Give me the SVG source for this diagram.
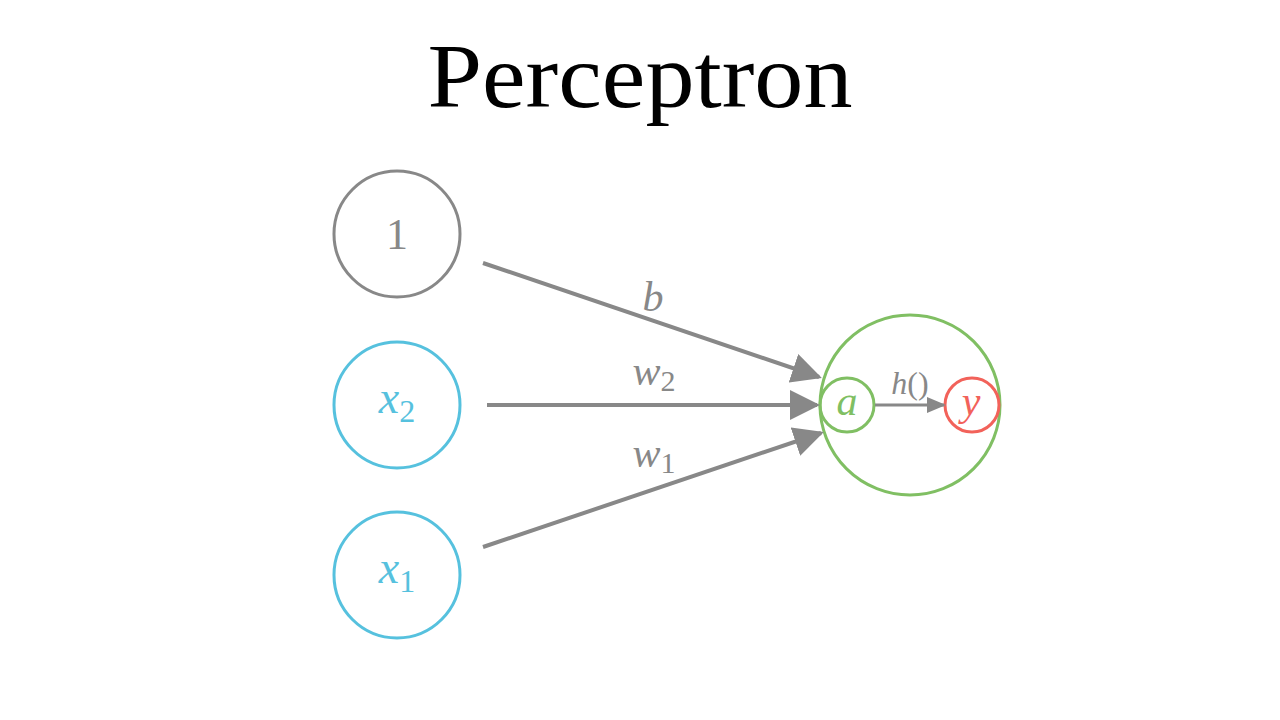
<svg xmlns="http://www.w3.org/2000/svg" width="1280" height="720" viewBox="0 0 1280 720">
<defs>
<marker id="ah" viewBox="0 0 30 30" refX="27" refY="15" markerWidth="30" markerHeight="30" markerUnits="userSpaceOnUse" orient="auto"><path d="M0,0 L30,15 L0,30 Z" fill="#888888"/></marker>
<marker id="ahs" viewBox="0 0 19 16" refX="17" refY="8" markerWidth="19" markerHeight="16" markerUnits="userSpaceOnUse" orient="auto"><path d="M0,0 L19,8 L0,16 Z" fill="#888888"/></marker>
</defs>
<style>
.t{font-family:"Liberation Serif","DejaVu Serif",serif}
.i{font-style:italic}
.gray{fill:#888888}
.blue{fill:#56C1DE}
.green{fill:#80BF63}
.red{fill:#F2625A}
.c{fill:none;stroke-width:3}
.e{stroke:#888888;stroke-width:4;fill:none}
</style>
<rect width="1280" height="720" fill="#ffffff"/>
<text class="t" x="640" y="107" font-size="92" text-anchor="middle" textLength="425" lengthAdjust="spacingAndGlyphs">Perceptron</text>
<g id="node-bias">
<circle class="c" cx="397" cy="234" r="63" stroke="#888888"/>
<text class="t gray" x="397" y="249" font-size="44" text-anchor="middle">1</text>
</g>
<g id="node-x2">
<circle class="c" cx="397" cy="405" r="63" stroke="#56C1DE"/>
<text class="t i blue" x="397" y="413" font-size="46" text-anchor="middle">x<tspan font-style="normal" font-size="32" dy="9">2</tspan></text>
</g>
<g id="node-x1">
<circle class="c" cx="397" cy="575" r="63" stroke="#56C1DE"/>
<text class="t i blue" x="397" y="583" font-size="46" text-anchor="middle">x<tspan font-style="normal" font-size="32" dy="9">1</tspan></text>
</g>
<g id="node-neuron">
<circle class="c" cx="910" cy="405" r="90" stroke="#80BF63"/>
</g>
<g id="node-a">
<circle class="c" cx="847" cy="405" r="27" stroke="#80BF63"/>
<text class="t i green" x="847" y="415" font-size="42" text-anchor="middle">a</text>
</g>
<g id="node-y">
<circle class="c" cx="972" cy="405" r="27" stroke="#F2625A"/>
<text class="t i red" x="971" y="415" font-size="42" text-anchor="middle">y</text>
</g>
<g id="connectors">
<line class="e" x1="483" y1="263" x2="819" y2="377" marker-end="url(#ah)"/>
<line class="e" x1="487" y1="405" x2="817" y2="405" marker-end="url(#ah)"/>
<line class="e" x1="483" y1="547" x2="821" y2="433" marker-end="url(#ah)"/>
<line x1="875" y1="405" x2="944" y2="405" stroke="#888888" stroke-width="3" marker-end="url(#ahs)"/>
<text class="t i gray" x="653" y="311" font-size="42" text-anchor="middle">b</text>
<text class="t i gray" x="654" y="385" font-size="42" text-anchor="middle">w<tspan font-style="normal" font-size="30" dy="6">2</tspan></text>
<text class="t i gray" x="654" y="467" font-size="42" text-anchor="middle">w<tspan font-style="normal" font-size="30" dy="6">1</tspan></text>
<text class="t gray" x="910" y="394" font-size="32" text-anchor="middle"><tspan font-style="italic">h</tspan>()</text>
</g>
</svg>
